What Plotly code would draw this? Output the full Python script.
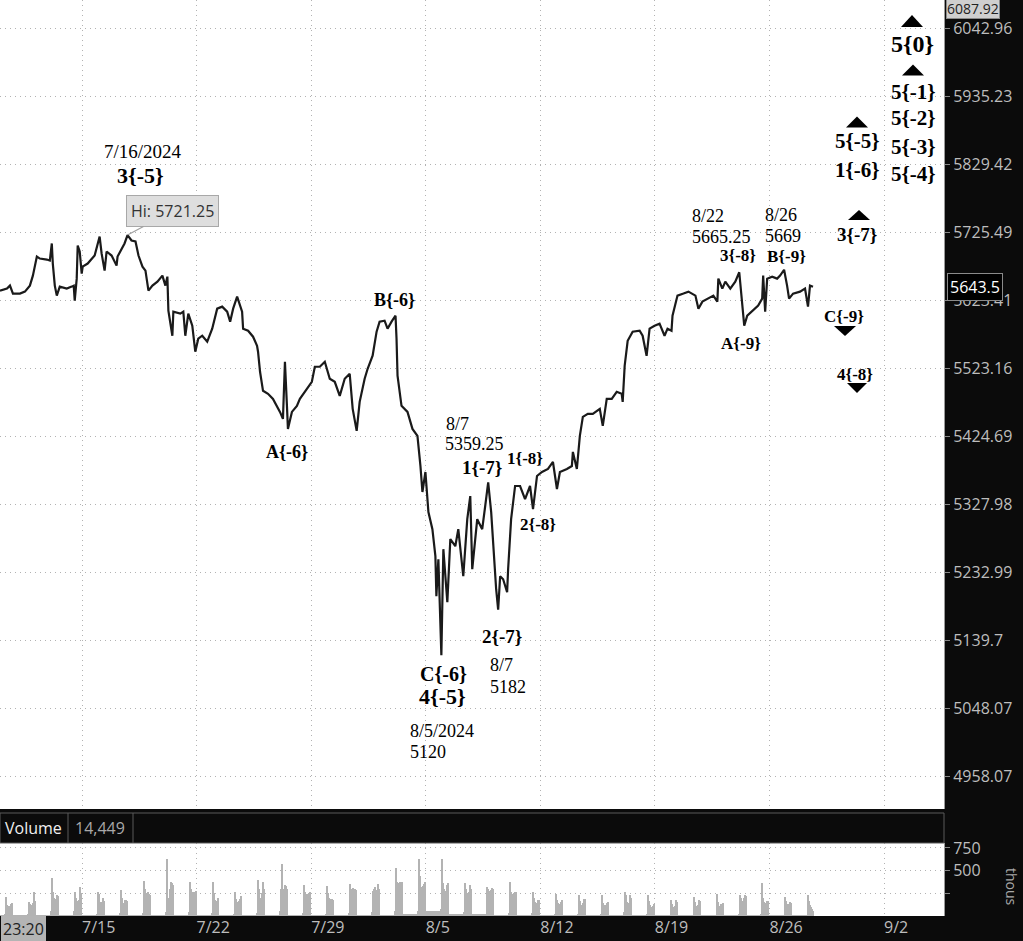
import numpy as np
import plotly.graph_objects as go
from plotly.subplots import make_subplots

# ---------------- data ----------------
# x unit: trading-session hours since chart start (23 h per session, weekends skipped)
PRICE_HOUR = [
    0, 7, 10, 13, 20, 25, 30, 33, 37, 40,
    47, 50, 52, 53, 55, 57, 60, 67, 72, 74,
    75, 77, 78, 80, 82, 83, 88, 95, 100, 102,
    105, 107, 112, 117, 118, 122, 125, 128, 132, 136,
    139, 143, 146, 149, 153, 158, 163, 166, 168, 169,
    173, 174, 181, 184, 186, 189, 193, 196, 199, 203,
    208, 213, 218, 223, 228, 231, 234, 238, 241, 243,
    244, 249, 254, 258, 259, 261, 264, 269, 274, 278,
    281, 284, 286, 288, 289, 293, 298, 301, 308, 313,
    316, 321, 326, 331, 336, 341, 346, 351, 354, 358,
    361, 366, 369, 374, 378, 381, 386, 389, 393, 397,
    398, 399, 403, 409, 414, 419, 422, 424, 427, 430,
    434, 437, 438, 440, 443, 445, 449, 452, 457, 460,
    465, 469, 472, 474, 479, 484, 487, 490, 493, 495,
    498, 500, 502, 505, 509, 510, 513, 517, 522, 527,
    532, 535, 539, 544, 550, 555, 559, 562, 569, 574,
    575, 579, 582, 585, 590, 595, 602, 605, 609, 614,
    619, 624, 625, 627, 630, 635, 642, 645, 649, 652,
    657, 662, 667, 670, 674, 675, 680, 686, 691, 698,
    701, 705, 711, 716, 720, 721, 725, 728, 733, 738,
    742, 745, 747, 750, 756, 761, 765, 766, 768, 770,
    775, 780, 783, 787, 790, 792, 796, 803, 808, 811,
    813, 816,
]
PRICE = [
    5637.8, 5640.8, 5645.3, 5633.4, 5633.4, 5636.3, 5645.3, 5660.2, 5688.8, 5685.8,
    5684.3, 5682.8, 5708.5, 5678.3, 5645.3, 5630.4, 5643.8, 5640.8, 5643.8, 5645.3,
    5622.9, 5655.7, 5705.4, 5696.4, 5663.2, 5673.7, 5678.3, 5690.3, 5719.0, 5693.4,
    5667.7, 5696.4, 5690.3, 5675.2, 5688.8, 5700.9, 5708.5, 5721.25, 5713.0, 5711.5,
    5690.3, 5673.7, 5667.7, 5637.8, 5645.3, 5651.2, 5660.2, 5645.3, 5658.7, 5608.0,
    5571.0, 5606.6, 5603.6, 5606.6, 5571.0, 5603.6, 5585.8, 5547.5, 5566.6, 5571.0,
    5562.2, 5581.4, 5611.0, 5614.0, 5606.6, 5591.8, 5611.0, 5628.9, 5615.5, 5606.6,
    5581.4, 5578.4, 5569.6, 5556.3, 5547.5, 5518.2, 5490.5, 5486.1, 5478.8, 5468.7,
    5460.0, 5449.9, 5532.8, 5468.7, 5435.5, 5460.0, 5468.7, 5478.8, 5493.4, 5503.6,
    5525.5, 5525.5, 5532.8, 5508.0, 5503.6, 5483.2, 5508.0, 5515.3, 5464.4, 5432.6,
    5474.5, 5508.0, 5522.6, 5541.6, 5577.0, 5591.8, 5593.2, 5581.4, 5591.8, 5600.6,
    5566.6, 5512.4, 5468.7, 5460.0, 5435.5, 5425.4, 5382.5, 5345.6, 5373.9, 5317.3,
    5293.4, 5255.7, 5200.3, 5251.5, 5120.0, 5265.4, 5192.1, 5279.4, 5269.6, 5293.4,
    5227.9, 5307.4, 5339.9, 5237.6, 5307.4, 5293.4, 5325.7, 5359.25, 5317.3, 5269.6,
    5210.0, 5182.0, 5227.9, 5223.8, 5205.9, 5237.6, 5307.4, 5354.1, 5354.1, 5335.6,
    5354.1, 5321.5, 5368.3, 5374.0, 5378.2, 5388.2, 5349.8, 5374.0, 5378.2, 5382.5,
    5402.5, 5378.2, 5425.4, 5452.8, 5457.2, 5457.2, 5464.4, 5439.8, 5478.8, 5478.8,
    5489.0, 5486.1, 5474.5, 5527.0, 5563.6, 5577.0, 5578.4, 5571.0, 5541.6, 5581.4,
    5585.8, 5588.8, 5571.0, 5581.4, 5578.4, 5600.6, 5630.4, 5633.4, 5636.3, 5630.4,
    5611.0, 5621.4, 5625.9, 5630.4, 5621.4, 5655.7, 5640.8, 5651.2, 5640.8, 5651.2,
    5665.25, 5615.5, 5585.8, 5600.6, 5608.0, 5615.5, 5625.9, 5660.2, 5606.6, 5655.7,
    5658.7, 5655.7, 5660.2, 5669.0, 5645.3, 5625.9, 5633.4, 5636.3, 5640.8, 5614.0,
    5645.3, 5643.5,
]
HI_HOUR = 128
HI_PRICE = 5721.25
LAST_PRICE = 5643.5
TOP_PRICE = 6087.92
VOLUME_LAST = "14,449"
CURSOR_TIME = "23:20"

Y_TICKS = [4958.07, 5048.07, 5139.7, 5232.99, 5327.98, 5424.69,
           5523.16, 5623.41, 5725.49, 5829.42, 5935.23, 6042.96]
Y_TICK_TEXT = ["4958.07", "5048.07", "5139.7", "5232.99", "5327.98", "5424.69",
               "5523.16", "5623.41", "5725.49", "5829.42", "5935.23", "6042.96"]
WEEK_LABELS = ["7/15", "7/22", "7/29", "8/5", "8/12", "8/19", "8/26", "9/2"]
SESSION_HOURS = 23
FIRST_MONDAY_START = 82.3   # session-hour index where the 7/15 session begins
DAYS_BEFORE = 4             # sessions shown before 7/15

# volume (thousands): overnight level per session, then hourly bars 8:30..15:30 ET
VOL_OVERNIGHT = [4, 4, 6, 5, 4, 4, 5, 6, 5, 4, 5, 6, 5, 5, 6, 8, 7, 8,
                 15, 55, 20, 15, 10, 8,
                 6, 5, 5, 6, 5, 5, 4, 4, 4, 5, 5, 4]
VOL_SESSION = [
    [15, 210, 120, 100, 110, 115, 130, 140],
    [20, 150, 130, 110, 120, 140, 266, 160],
    [60, 418, 260, 200, 180, 190, 228, 220],
    [50, 266, 200, 160, 150, 180, 323, 250],
    [20, 266, 240, 150, 140, 150, 200, 170],
    [30, 285, 200, 140, 130, 171, 180, 160],
    [30, 388, 300, 250, 200, 266, 240, 230],
    [40, 627, 200, 150, 300, 380, 360, 340],
    [40, 380, 300, 250, 260, 266, 240, 280],
    [30, 373, 250, 180, 171, 160, 170, 200],
    [20, 266, 190, 150, 120, 160, 190, 220],
    [30, 399, 300, 200, 190, 250, 380, 300],
    [50, 300, 570, 300, 250, 342, 330, 300],
    [30, 342, 260, 220, 247, 240, 250, 260],
    [20, 334, 250, 200, 190, 170, 190, 180],
    [30, 357, 250, 300, 304, 280, 300, 290],
    [40, 280, 300, 320, 250, 290, 357, 300],
    [50, 532, 380, 360, 350, 380, 360, 370],
    [60, 627, 437, 322, 300, 330, 350, 380],
    [80, 627, 361, 300, 250, 280, 340, 361],
    [40, 361, 300, 250, 200, 260, 342, 300],
    [30, 323, 300, 280, 250, 290, 304, 300],
    [30, 380, 266, 240, 230, 250, 260, 266],
    [30, 266, 200, 150, 140, 130, 171, 180],
    [20, 247, 171, 140, 120, 130, 150, 171],
    [20, 228, 160, 120, 110, 140, 190, 190],
    [20, 228, 140, 120, 100, 120, 140, 150],
    [40, 266, 228, 150, 130, 140, 228, 200],
    [20, 228, 160, 120, 100, 90, 110, 130],
    [10, 171, 130, 100, 90, 110, 171, 150],
    [10, 209, 150, 110, 100, 120, 180, 160],
    [10, 247, 150, 110, 100, 130, 130, 140],
    [20, 228, 200, 170, 160, 200, 228, 220],
    [20, 361, 200, 150, 130, 140, 160, 170],
    [10, 209, 160, 130, 120, 130, 150, 140],
    [10, 228, 160, 120, 100, 80, 60],
]

# ---------------- layout constants ----------------
W, H = 1023, 941
PLOT_W, PLOT_H = 944, 916
PRICE_BOTTOM_PX = 809
VOL_TOP_PX = 843
X_MAX = 947.5

week_ticks = [FIRST_MONDAY_START + 5 * SESSION_HOURS * i for i in range(len(WEEK_LABELS))]

# volume bar positions built from the session structure
vol_x, vol_y, vol_w = [], [], []
for i, (night, sess) in enumerate(zip(VOL_OVERNIGHT, VOL_SESSION)):
    start = FIRST_MONDAY_START + (i - DAYS_BEFORE) * SESSION_HOURS
    vol_x.append(start + 7.25); vol_y.append(night); vol_w.append(14.5)
    for j, v in enumerate(sess):
        vol_x.append(start + 14.5 + j + 0.5); vol_y.append(v); vol_w.append(1.0)


def px(x, y):
    return x / PLOT_W, 1 - y / PLOT_H


fig = make_subplots(rows=2, cols=1, shared_xaxes=True, vertical_spacing=0)
fig.add_trace(go.Scatter(x=PRICE_HOUR, y=PRICE, mode="lines",
                         line=dict(color="#1a1a1a", width=2.2), hoverinfo="skip"),
              row=1, col=1)
fig.add_trace(go.Bar(x=vol_x, y=vol_y, width=vol_w,
                     marker=dict(color="#b3b3b3", line=dict(width=0)), hoverinfo="skip"),
              row=2, col=1)

grid = dict(showgrid=True, gridcolor="#b2b2b2", gridwidth=1, griddash="1px,4px",
            zeroline=False, automargin=False)
axis_font = dict(family="Open Sans", size=16, color="#bdbdbd")

fig.update_layout(
    width=W, height=H, margin=dict(l=0, r=W - PLOT_W, t=0, b=H - PLOT_H, autoexpand=False),
    paper_bgcolor="#0b0b0b", plot_bgcolor="#ffffff", showlegend=False, bargap=0,
    xaxis=dict(range=[0, X_MAX], tickvals=week_ticks, showticklabels=False,
               ticks="", showline=False, domain=[0, 1], **grid),
    xaxis2=dict(range=[0, X_MAX], tickvals=week_ticks, ticktext=WEEK_LABELS,
                ticks="", showline=False, tickfont=axis_font,
                ticklabelposition="outside right", domain=[0, 1], **grid),
    yaxis=dict(type="log", range=[np.log10(4916), np.log10(TOP_PRICE)],
               side="right", tickvals=Y_TICKS, ticktext=Y_TICK_TEXT, tickfont=axis_font,
               ticks="outside", ticklen=5, tickcolor="#888888",
               showline=True, linecolor="#9a9a9a", linewidth=1,
               domain=[1 - PRICE_BOTTOM_PX / PLOT_H, 1], **grid),
    yaxis2=dict(range=[0, 805], side="right", tickvals=[250, 500, 750],
                ticktext=["", "500", "750"], tickfont=axis_font,
                ticks="outside", ticklen=5, tickcolor="#888888",
                showline=True, linecolor="#9a9a9a", linewidth=1,
                domain=[0, 1 - VOL_TOP_PX / PLOT_H], **grid),
)

annotations = []
shapes = []

BOLD_LABELS = [
    ("3{-5}", 140, 175, 22), ("A{-6}", 287, 452, 18), ("B{-6}", 394, 300, 18),
    ("1{-7}", 482, 467, 19), ("1{-8}", 525, 458, 17), ("2{-8}", 538, 524, 17),
    ("2{-7}", 502, 636, 19), ("C{-6}", 443, 674, 20), ("4{-5}", 442, 696, 22),
    ("3{-8}", 738, 255, 17), ("B{-9}", 786, 256, 17), ("A{-9}", 741, 343, 17),
    ("C{-9}", 844, 316, 17), ("4{-8}", 855, 374, 17), ("3{-7}", 857, 234, 19),
    ("5{-5}", 857, 141, 21), ("1{-6}", 857, 170, 21), ("5{0}", 912, 44, 24),
    ("5{-1}", 913, 92, 21), ("5{-2}", 913, 118, 21), ("5{-3}", 913, 147, 21),
    ("5{-4}", 913, 174, 21),
]
PLAIN_LABELS = [
    ("7/16/2024", 143, 152, 19), ("8/7", 457, 424, 18), ("5359.25", 474, 444, 18),
    ("8/7", 501, 665, 18), ("5182", 508, 687, 18), ("8/5/2024", 442, 731, 18),
    ("5120", 428, 752, 18), ("8/22", 708, 216, 18), ("5665.25", 721, 237, 18),
    ("8/26", 781, 215, 18), ("5669", 783, 236, 18),
]
for txt, cx, cy, s in BOLD_LABELS:
    x, y = px(cx, cy)
    annotations.append(dict(text=f"<b>{txt}</b>", x=x, y=y, xref="paper", yref="paper",
                            showarrow=False, xanchor="center", yanchor="middle",
                            font=dict(family="Liberation Serif", size=s, color="#000")))
for txt, cx, cy, s in PLAIN_LABELS:
    x, y = px(cx, cy)
    annotations.append(dict(text=txt, x=x, y=y, xref="paper", yref="paper",
                            showarrow=False, xanchor="center", yanchor="middle",
                            font=dict(family="Liberation Serif", size=s, color="#000")))

TRIANGLES = [(912, 21, True, 22, 12), (913, 70, True, 22, 11), (857, 122, True, 22, 11),
             (859, 215, True, 22, 10), (845, 331, False, 22, 10), (857, 388, False, 20, 10)]
for cx, cy, up, w, h in TRIANGLES:
    if up:
        pts = [(cx - w / 2, cy + h / 2), (cx + w / 2, cy + h / 2), (cx, cy - h / 2)]
    else:
        pts = [(cx - w / 2, cy - h / 2), (cx + w / 2, cy - h / 2), (cx, cy + h / 2)]
    p = [px(a, b) for a, b in pts]
    path = f"M {p[0][0]},{p[0][1]} L {p[1][0]},{p[1][1]} L {p[2][0]},{p[2][1]} Z"
    shapes.append(dict(type="path", path=path, xref="paper", yref="paper",
                       fillcolor="#000", line=dict(width=0)))

# Hi callout
annotations.append(dict(text="Hi: 5721.25", x=HI_HOUR, y=np.log10(HI_PRICE), xref="x", yref="y",
                        showarrow=True, arrowhead=0, arrowwidth=1.2, arrowcolor="#a0a0a0",
                        ax=45, ay=-24, bgcolor="#dedede", bordercolor="#a8a8a8",
                        borderwidth=1, borderpad=4,
                        font=dict(family="Open Sans", size=16, color="#333")))

# right-axis boxes
annotations.append(dict(text=f"{LAST_PRICE}", x=947 / PLOT_W, y=np.log10(LAST_PRICE),
                        xref="paper", yref="y", xanchor="left", yanchor="middle",
                        showarrow=False, bgcolor="#000", bordercolor="#8a8a8a",
                        borderwidth=1, borderpad=2,
                        font=dict(family="Open Sans", size=16, color="#ffffff")))
x, y = px(946, 9)
annotations.append(dict(text=f"{TOP_PRICE}", x=x, y=y, xref="paper", yref="paper",
                        xanchor="left", yanchor="middle", showarrow=False,
                        bgcolor="#cfcfcf", bordercolor="#8a8a8a", borderwidth=1, borderpad=0,
                        font=dict(family="Open Sans", size=14, color="#222")))

# volume header band
y_top, y_bot = 1 - 813 / PLOT_H, 1 - VOL_TOP_PX / PLOT_H
shapes.append(dict(type="rect", xref="paper", yref="paper", x0=0, x1=1, y0=y_bot, y1=y_top,
                   line=dict(color="#5a5a5a", width=1), fillcolor="rgba(0,0,0,0)"))
for sx in (68, 133):
    shapes.append(dict(type="line", xref="paper", yref="paper", x0=sx / PLOT_W, x1=sx / PLOT_W,
                       y0=y_bot, y1=y_top, line=dict(color="#5a5a5a", width=1)))
x, y = px(3, 828)
annotations.append(dict(text="Volume", x=x, y=y, xref="paper", yref="paper", xanchor="left",
                        yanchor="middle", showarrow=False,
                        font=dict(family="Open Sans", size=16, color="#f0f0f0")))
x, y = px(73, 828)
annotations.append(dict(text=VOLUME_LAST, x=x, y=y, xref="paper", yref="paper", xanchor="left",
                        yanchor="middle", showarrow=False,
                        font=dict(family="Open Sans", size=16, color="#a8a8a8")))

# cursor time box bottom-left
x, y = px(1, 929)
annotations.append(dict(text=CURSOR_TIME, x=x, y=y, xref="paper", yref="paper", xanchor="left",
                        yanchor="middle", showarrow=False, bgcolor="#b4b4b4",
                        bordercolor="#b4b4b4", borderpad=1,
                        font=dict(family="Open Sans", size=16, color="#222")))

# units label (rotated)
x, y = px(1012, 887)
annotations.append(dict(text="thous", x=x, y=y, xref="paper", yref="paper",
                        xanchor="center", yanchor="middle", showarrow=False, textangle=90,
                        font=dict(family="Open Sans", size=14, color="#a8a8a8")))

fig.update_layout(annotations=annotations, shapes=shapes)

fig.write_html("out.html", config={"displayModeBar": False},
               post_script="document.body.style.margin='0';document.body.style.overflow='hidden';")
